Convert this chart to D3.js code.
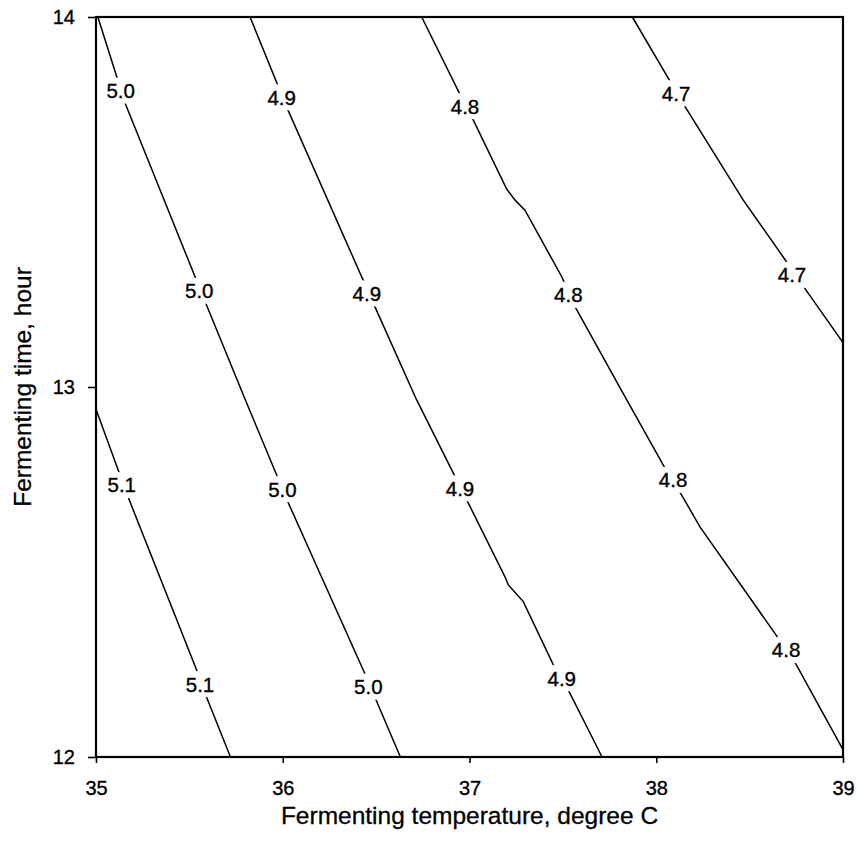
<!DOCTYPE html>
<html lang="en">
<head>
  <meta charset="UTF-8">
  <title>Fermenting time vs temperature contour</title>
  <script src="https://d3js.org/d3.v7.min.js"></script>
  <style>
    body {
      margin: 0;
      background: #fff;
      font-family: Arial, "Liberation Sans", sans-serif;
    }

    svg {
      display: block;
    }

    .contour {
      fill: none;
      stroke: #000;
      stroke-width: 1.5;
    }

    .frame {
      fill: none;
      stroke: #000;
      stroke-width: 2.2;
    }

    .tick text {
      font-size: 20px;
      fill: #000;
      stroke: #000;
      stroke-width: 0.35;
    }

    .tick line {
      stroke: #000;
      stroke-width: 1.6;
    }

    .clabel {
      font-size: 20.5px;
      fill: #000;
      stroke: #000;
      stroke-width: 0.35;
    }

    .axis-title {
      font-size: 24.5px;
      fill: #000;
      stroke: #000;
      stroke-width: 0.3;
    }
  </style>
</head>
<body>
  <svg id="chart"></svg>
  <script>
    // contour levels and their traced paths: [temperature, hours]
    const levels = ["5.1", "5.0", "4.9", "4.8", "4.7"];

    const line51 = [
      [35.00, 12.94], [35.17, 12.705], [35.54, 12.234], [35.59, 12.164], [35.72, 12.00]
    ];
    const line50 = [
      [35.01, 14.00], [35.155, 13.768], [35.584, 13.231], [35.80, 12.965],
      [36.027, 12.690], [36.431, 12.235], [36.63, 12.00]
    ];
    const line49 = [
      [35.825, 14.00], [36.024, 13.753], [36.489, 13.222], [36.717, 12.965],
      [36.985, 12.695], [37.190, 12.487], [37.208, 12.465], [37.288, 12.420],
      [37.449, 12.249], [37.534, 12.176], [37.71, 12.00]
    ];
    const line48 = [
      [36.744, 14.00], [36.945, 13.795], [37.012, 13.730], [37.199, 13.535],
      [37.244, 13.505], [37.297, 13.478], [37.494, 13.298], [37.565, 13.217],
      [37.842, 12.965], [38.052, 12.776], [38.136, 12.708], [38.234, 12.622],
      [38.641, 12.330], [38.748, 12.251], [39.00, 12.02]
    ];
    const line47 = [
      [37.872, 14.00], [38.145, 13.765], [38.466, 13.505], [38.679, 13.352],
      [38.770, 13.285], [39.00, 13.12]
    ];

    // where each level's inline label sits
    const labels51 = [[35.138, 12.735], [35.557, 12.197]];
    const labels50 = [[35.132, 13.801], [35.553, 13.260], [35.998, 12.724], [36.458, 12.190]];
    const labels49 = [[35.994, 13.783], [36.450, 13.253], [36.949, 12.726], [37.494, 12.213]];
    const labels48 = [[36.976, 13.759], [37.529, 13.249], [38.090, 12.749], [38.695, 12.289]];
    const labels47 = [[38.106, 13.794], [38.727, 13.303]];

    const xTicks = [35, 36, 37, 38, 39];
    const yTicks = [12, 13, 14];

    const xTitle = "Fermenting temperature, degree C";
    const yTitle = "Fermenting time, hour";

    const contours = [
      { level: levels[0], path: line51, labels: labels51 },
      { level: levels[1], path: line50, labels: labels50 },
      { level: levels[2], path: line49, labels: labels49 },
      { level: levels[3], path: line48, labels: labels48 },
      { level: levels[4], path: line47, labels: labels47 }
    ];

    const width = 858;
    const height = 843;
    const margin = { top: 17, right: 15, bottom: 86, left: 96 };

    const svg = d3.select("#chart")
      .attr("width", width)
      .attr("height", height);

    const x = d3.scaleLinear()
      .domain([35, 39])
      .range([margin.left, width - margin.right]);

    const y = d3.scaleLinear()
      .domain([12, 14])
      .range([height - margin.bottom, margin.top]);

    // axes
    svg.append("g")
      .attr("transform", `translate(0,${height - margin.bottom})`)
      .call(d3.axisBottom(x).tickValues(xTicks).tickFormat(d3.format("d"))
        .tickSize(6).tickPadding(18))
      .call(g => g.select(".domain").remove())
      .selectAll("text").attr("font-family", null);

    svg.append("g")
      .attr("transform", `translate(${margin.left},0)`)
      .call(d3.axisLeft(y).tickValues(yTicks).tickFormat(d3.format("d"))
        .tickSize(8).tickPadding(13))
      .call(g => g.select(".domain").remove())
      .selectAll("text").attr("font-family", null);

    // contour lines
    const line = d3.line()
      .x(d => x(d[0]))
      .y(d => y(d[1]))
      .curve(d3.curveLinear);

    svg.append("g")
      .selectAll("path")
      .data(contours)
      .join("path")
      .attr("class", "contour")
      .attr("d", d => line(d.path));

    // inline labels, with a white patch to break the line
    const labelData = contours.flatMap(c => c.labels.map(p => ({ level: c.level, p })));

    const lab = svg.append("g")
      .selectAll("g")
      .data(labelData)
      .join("g")
      .attr("transform", d => `translate(${x(d.p[0])},${y(d.p[1])})`);

    lab.append("rect")
      .attr("x", -19)
      .attr("y", -13)
      .attr("width", 38)
      .attr("height", 26)
      .attr("fill", "#fff");

    lab.append("text")
      .attr("class", "clabel")
      .attr("text-anchor", "middle")
      .attr("dy", "0.36em")
      .text(d => d.level);

    // frame
    svg.append("rect")
      .attr("class", "frame")
      .attr("x", margin.left)
      .attr("y", margin.top)
      .attr("width", width - margin.left - margin.right)
      .attr("height", height - margin.top - margin.bottom);

    // axis titles
    svg.append("text")
      .attr("class", "axis-title")
      .attr("x", (margin.left + width - margin.right) / 2)
      .attr("y", 824)
      .attr("text-anchor", "middle")
      .text(xTitle);

    svg.append("text")
      .attr("class", "axis-title")
      .attr("transform", `translate(31,${(margin.top + height - margin.bottom) / 2}) rotate(-90)`)
      .attr("text-anchor", "middle")
      .text(yTitle);
  </script>
</body>
</html>
